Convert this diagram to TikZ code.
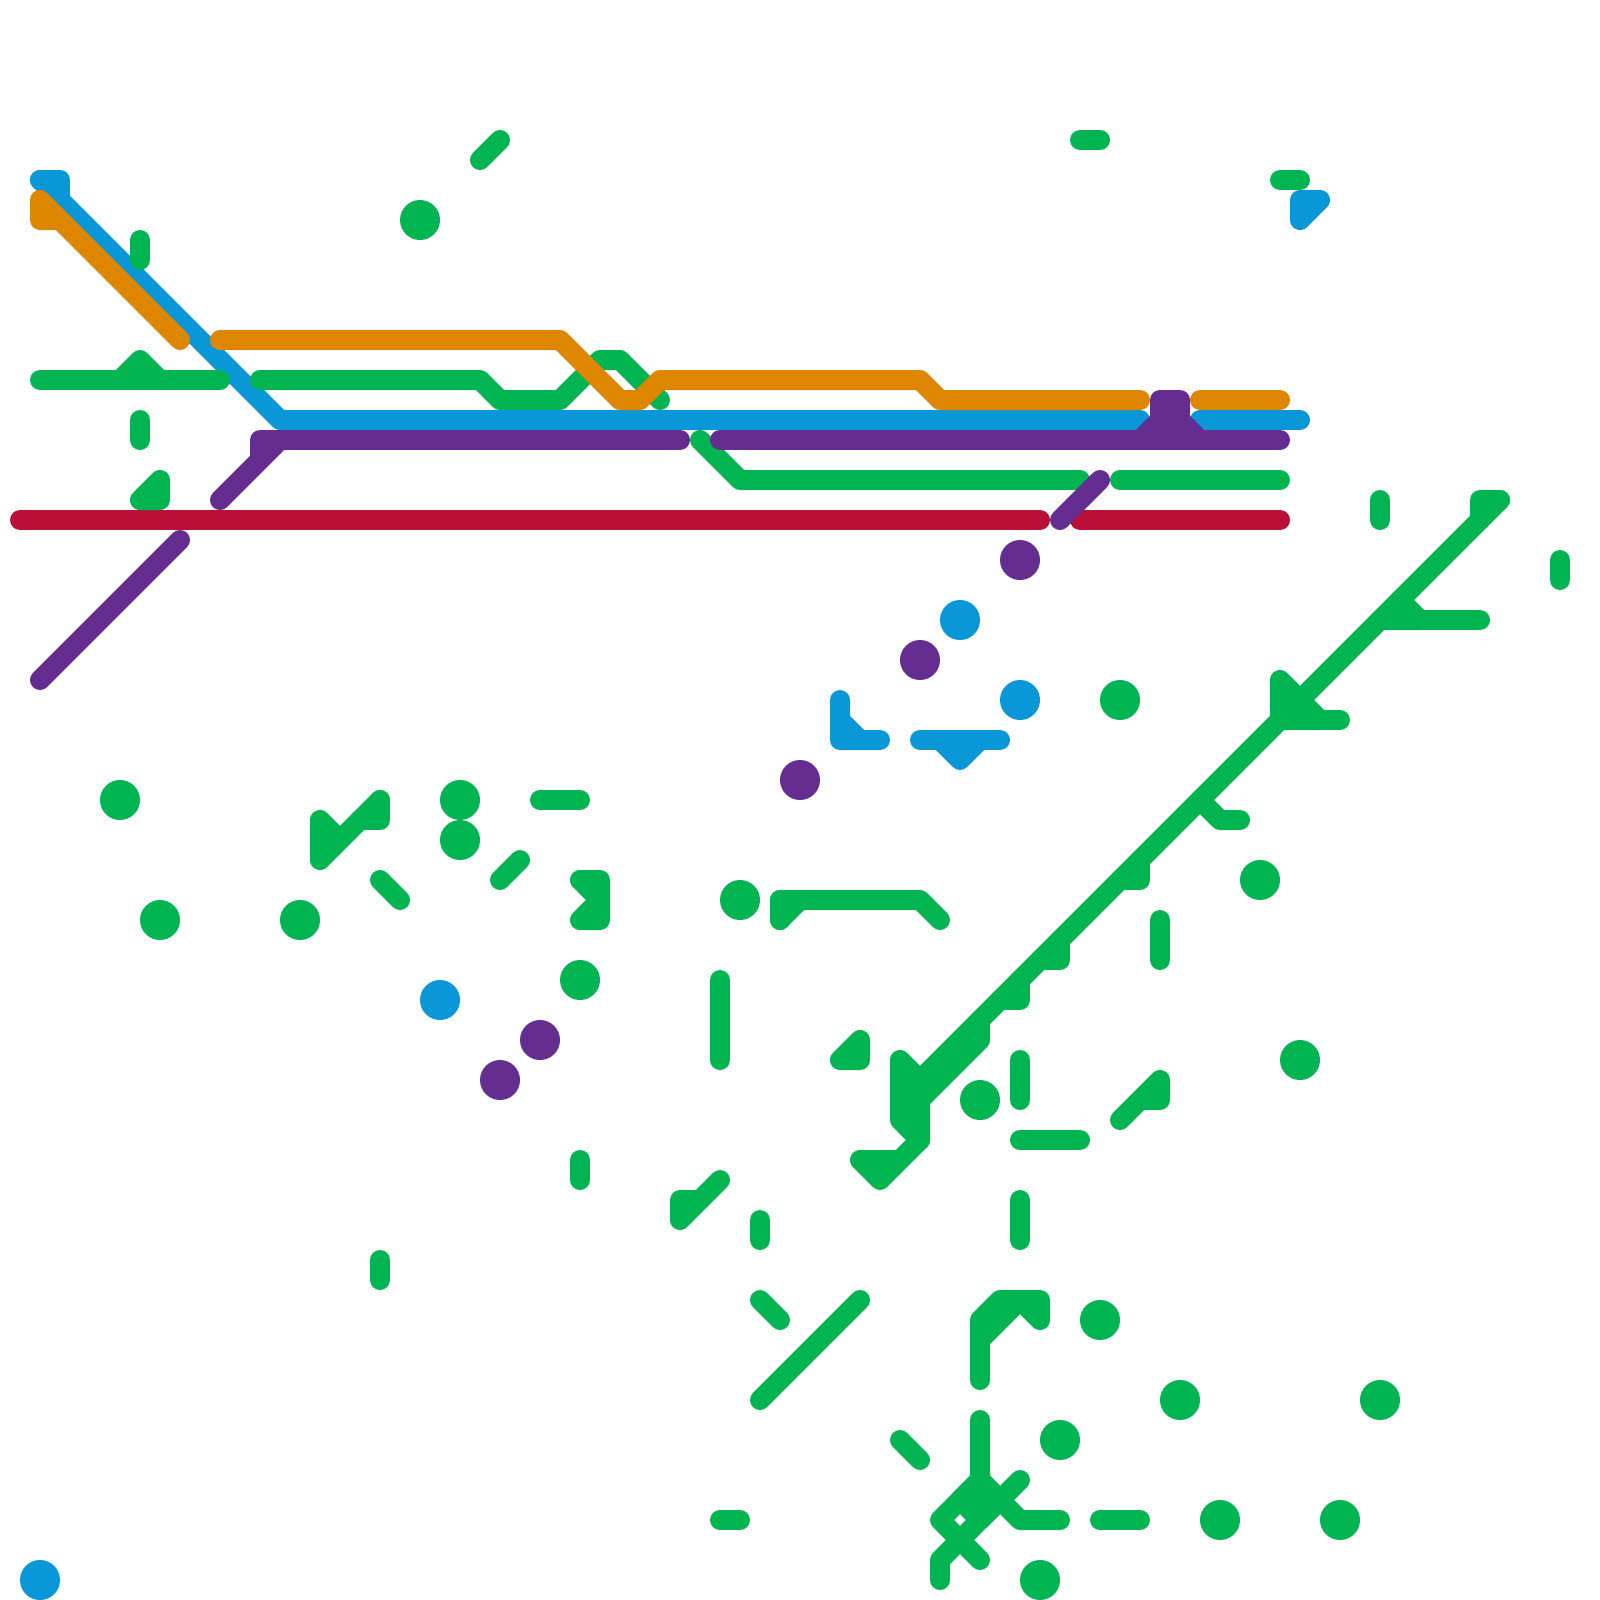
\documentclass[tikz,border=0pt]{standalone}
\usepackage{tikz}
\definecolor{lineGreen}{HTML}{00B451}
\definecolor{lineBlue}{HTML}{0997D8}
\definecolor{lineOrange}{HTML}{DE8600}
\definecolor{linePurple}{HTML}{662D91}
\definecolor{lineRed}{HTML}{BA0F37}
\tikzset{
  track/.style={line width=0.25cm,line cap=round,line join=round},
  stopdot/.style={circle,minimum size=0.5cm,inner sep=0pt,outer sep=0pt}
}
\begin{document}
\begin{tikzpicture}[x=0.25cm,y=-0.25cm]
        \useasboundingbox (0,0) rectangle (80,80);
        \begin{scope}[track,lineRed]
          \draw (1,26) -- (52,26);
          \draw (54,26) -- (64,26);
        \end{scope}
        \begin{scope}[track,lineBlue]
          \draw[fill=lineBlue] (2,9) -- (3,9) -- (3,10);
          \draw (2,9) -- (14,21) -- (57,21);
          \draw (60,21) -- (65,21);
          \draw[fill=lineBlue] (65,11) -- (65,10) -- (66,10) -- cycle;
          \draw[fill=lineBlue] (42,35) -- (42,37) -- (44,37) -- (43,37) -- (42,36);
          \draw (46,37) -- (50,37);
          \draw[fill=lineBlue] (47,37) -- (48,38) -- (49,37);
        \end{scope}
        \begin{scope}[track,lineGreen]
          \draw (2,19) -- (11,19);
          \draw[fill=lineGreen] (6,19) -- (7,18) -- (8,19);
          \draw (13,19) -- (24,19) -- (25,20) -- (28,20) -- (30,18) -- (31,18) -- (33,20);
          \draw (35,22) -- (37,24) -- (54,24);
          \draw (56,24) -- (64,24);
          \draw[fill=lineGreen] (7,25) -- (8,24) -- (8,25) -- cycle;
          \foreach \xa/\ya/\xb/\yb in {24/8/25/7,54/7/55/7,64/9/65/9,7/12/7/13,7/21/7/22,69/25/69/26,78/28/78/29,
            27/40/29/40,19/44/20/45,25/44/26/43,36/49/36/53,51/53/51/55,51/57/54/57,58/46/58/48,51/60/51/62,
            29/58/29/59,38/61/38/62,38/65/39/66,38/70/43/65,19/63/19/64,45/72/46/73,36/76/37/76,55/76/57/76} {
            \draw (\xa,\ya) -- (\xb,\yb);
          }
          \draw[fill=lineGreen] (75,25) -- (74,25) -- (74,26);
          \draw (75,25) -- (46,54);
          \draw[fill=lineGreen] (70,30) -- (71,31) -- (69,31);
          \draw (71,31) -- (74,31);
          \draw[fill=lineGreen] (64,34) -- (66,36) -- (64,36) -- cycle;
          \draw (66,36) -- (67,36);
          \draw (60,40) -- (61,41) -- (62,41);
          \foreach \xa/\ya in {56/44,52/48,50/50} {
            \pgfmathtruncatemacro{\xb}{\xa+1}
            \pgfmathtruncatemacro{\yb}{\ya-1}
            \draw[fill=lineGreen] (\xa,\ya) -- (\xb,\ya) -- (\xb,\yb);
          }
          \draw[fill=lineGreen] (46,54) -- (45,53) -- (45,56) -- (46,57) -- (46,55) -- (49,52) -- (49,51);
          \draw[fill=lineGreen] (45,58) -- (43,58) -- (44,59) -- (46,57);
          \draw[fill=lineGreen] (17,42) -- (16,41) -- (16,43) -- (19,40);
          \draw[fill=lineGreen] (19,40) -- (19,41) -- (18,41);
          \draw[fill=lineGreen] (29,44) -- (30,44) -- (30,46) -- (29,46) -- (30,45) -- cycle;
          \draw (39,46) -- (39,45) -- (46,45) -- (47,46);
          \draw[fill=lineGreen] (39,46) -- (40,45) -- (39,45);
          \draw[fill=lineGreen] (42,53) -- (43,53) -- (43,52) -- cycle;
          \draw[fill=lineGreen] (56,56) -- (58,54) -- (58,55) -- (57,55);
          \draw[fill=lineGreen] (35,60) -- (34,60) -- (34,61) -- (36,59);
          \draw[fill=lineGreen] (49,69) -- (49,66) -- (50,65) -- (52,65) -- (52,66) -- (51,65) -- (49,67) -- cycle;
          \draw (49,71) -- (49,74) -- (51,76) -- (53,76);
          \draw (49,74) -- (47,76) -- (49,78);
          \draw (51,74) -- (47,78) -- (47,79);
          \draw[fill=lineGreen] (49,74) -- (50,75) -- (49,76) -- (48,75) -- cycle;
        \end{scope}
        \begin{scope}[track,lineOrange]
          \draw[fill=lineOrange] (3,11) -- (2,11) -- (2,10) -- (9,17);
          \draw (11,17) -- (28,17) -- (31,20) -- (32,20) -- (33,19) -- (46,19) -- (47,20) -- (57,20);
          \draw (60,20) -- (64,20);
        \end{scope}
        \begin{scope}[track,linePurple]
          \draw (2,34) -- (9,27);
          \draw[fill=linePurple] (11,25) -- (14,22) -- (13,22) -- (13,23);
          \draw (14,22) -- (34,22);
          \draw (36,22) -- (64,22);
          \draw[fill=linePurple] (57,22) -- (58,21) -- (58,20) -- (59,20) -- (59,21) -- (60,22);
          \draw (53,26) -- (55,24);
        \end{scope}
        \foreach \x/\y [count=\i] in {21/11,56/35,6/40,23/40,23/42,8/46,15/46,37/45,29/49,63/44,65/53,49/55,55/66,59/70,69/70,53/72,61/76,67/76,52/79} {
          \node[stopdot,fill=lineGreen] (green\i) at (\x,\y) {};
        }
        \foreach \x/\y [count=\i] in {48/31,51/35,22/50,2/79} {
          \node[stopdot,fill=lineBlue] (blue\i) at (\x,\y) {};
        }
        \foreach \x/\y [count=\i] in {51/28,46/33,40/39,27/52,25/54} {
          \node[stopdot,fill=linePurple] (purple\i) at (\x,\y) {};
        }
      \end{tikzpicture}
\end{document}
